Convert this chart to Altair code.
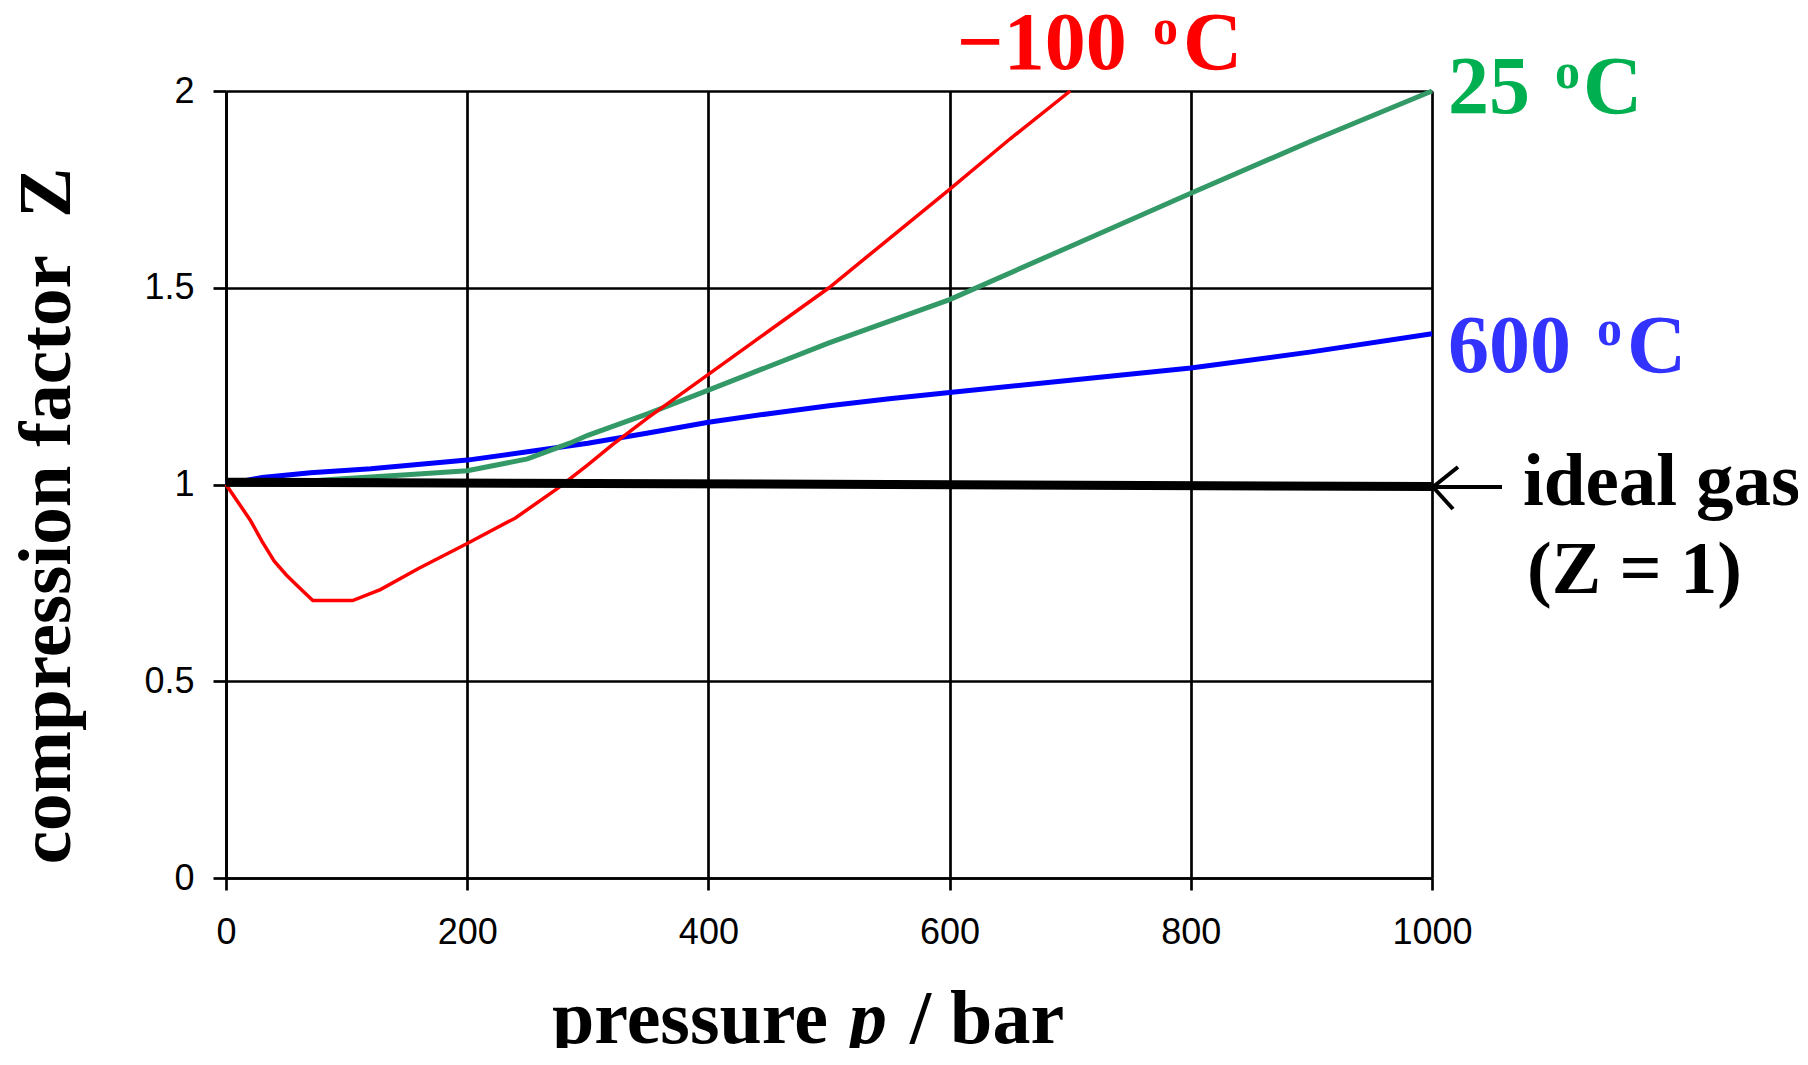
import altair as alt
import pandas as pd

# ---- data ----
red_p = [0, 10, 20, 30, 40, 50, 60, 72, 105, 128, 160, 200, 240, 275, 300, 320, 350, 400, 450, 500, 550, 600, 650, 700]
red_z = [1.0, 0.955, 0.91, 0.855, 0.805, 0.77, 0.74, 0.705, 0.705, 0.733, 0.787, 0.85, 0.915, 0.99, 1.05, 1.10, 1.17, 1.28, 1.39, 1.50, 1.625, 1.75, 1.878, 2.0]

green_p = [0, 50, 100, 150, 200, 250, 285, 300, 350, 400, 500, 600, 700, 800, 900, 1000]
green_z = [1.0, 1.005, 1.015, 1.025, 1.035, 1.065, 1.105, 1.125, 1.18, 1.24, 1.36, 1.47, 1.605, 1.74, 1.873, 2.0]

blue_p = [0, 30, 70, 120, 200, 250, 300, 350, 400, 450, 500, 550, 600, 700, 800, 900, 1000]
blue_z = [1.0, 1.018, 1.03, 1.04, 1.062, 1.083, 1.105, 1.131, 1.158, 1.18, 1.20, 1.218, 1.234, 1.265, 1.296, 1.337, 1.383]

ideal_p = [0, 1000]
ideal_z = [1.006, 0.995]

x_ticks = [0, 200, 400, 600, 800, 1000]
y_ticks = [0, 0.5, 1, 1.5, 2]

W, H = 1206, 787

def df(p, z):
    return pd.DataFrame({"p": p, "z": z})

xs = alt.Scale(domain=[0, 1000], nice=False, zero=False)
ys = alt.Scale(domain=[0, 2], nice=False, zero=False)

LABEL_FONT = "Liberation Sans Narrow, Arial Narrow, Liberation Sans"
x_axis = alt.Axis(values=x_ticks, labelExpr="datum.value + ''", grid=True, gridColor="black",
                  gridWidth=2.7, gridOpacity=1, tickSize=12, tickWidth=2.7, tickColor="black",
                  domainColor="black", domainWidth=2.7, labelFont=LABEL_FONT,
                  labelFontSize=36, labelColor="black", labelPadding=25, labelFlush=False)
y_axis = alt.Axis(values=y_ticks, labelExpr="datum.value + ''", grid=True, gridColor="black",
                  gridWidth=2.7, gridOpacity=1, tickSize=13, tickWidth=2.7, tickColor="black",
                  domainColor="black", domainWidth=2.7, labelFont=LABEL_FONT,
                  labelFontSize=36, labelColor="black", labelPadding=19, labelFlush=False)

def line(p, z, color, width, with_axes=False):
    if with_axes:
        enc = dict(x=alt.X("p:Q", scale=xs, axis=x_axis, title=None),
                   y=alt.Y("z:Q", scale=ys, axis=y_axis, title=None))
    else:
        enc = dict(x=alt.X("p:Q", scale=xs), y=alt.Y("z:Q", scale=ys))
    return alt.Chart(df(p, z)).mark_line(color=color, strokeWidth=width, clip=False).encode(**enc)

dummy = pd.DataFrame({"a": [0]})

def txt(text, x, y, color="black", size=82, style="normal", angle=0, align="left"):
    kw = dict(text=text, align=align, baseline="alphabetic", font="Liberation Serif",
              fontSize=size, fontWeight="bold", fontStyle=style, color=color)
    if angle:
        kw["angle"] = angle
    return alt.Chart(dummy).mark_text(**kw).encode(x=alt.value(x), y=alt.value(y))

def seg(x1, y1, x2, y2, width=4):
    return alt.Chart(dummy).mark_rule(color="black", strokeWidth=width).encode(
        x=alt.value(x1), y=alt.value(y1), x2=alt.value(x2), y2=alt.value(y2))

RED, GREEN_L, BLUE_L = "#FF0000", "#339966", "#0000FF"
GREEN_T, BLUE_T = "#00B050", "#3333FF"

layers = [
    line(blue_p, blue_z, BLUE_L, 5, with_axes=True),
    line(green_p, green_z, GREEN_L, 5),
    line(red_p, red_z, RED, 3.5),
    line(ideal_p, ideal_z, "black", 9),
    # series labels
    txt("\u2212100", 731, -22, RED), txt("o", 927, -47, RED, size=50), txt("C", 957, -22, RED),
    txt("25", 1222, 22, GREEN_T), txt("o", 1329, -3, GREEN_T, size=50), txt("C", 1357, 22, GREEN_T),
    txt("600", 1222, 281, BLUE_T), txt("o", 1371, 254, BLUE_T, size=50), txt("C", 1401, 281, BLUE_T),
    txt("ideal gas", 1297, 414, size=75),
    txt("(Z = 1)", 1301, 502, size=74),
    # arrow
    seg(1207, 396, 1276, 396), seg(1207, 396, 1232, 376), seg(1207, 396, 1227, 418),
    # axis titles
    txt("pressure", 326, 952, size=76),
    txt("p", 623, 952, size=76, style="italic"),
    txt("/ bar", 684, 952, size=76),
    txt("compression factor\u00a0\u00a0Z", -156, 425, size=75, angle=270, align="center"),
]

chart = alt.layer(*layers).properties(
    width=W, height=H,
    padding={"left": 218, "top": 83, "right": 366, "bottom": 170},
    autosize=alt.AutoSizeParams(type="none"),
    background="white",
).configure_view(stroke=None)

chart.save("out.html", embed_options={"renderer": "svg", "actions": False})
